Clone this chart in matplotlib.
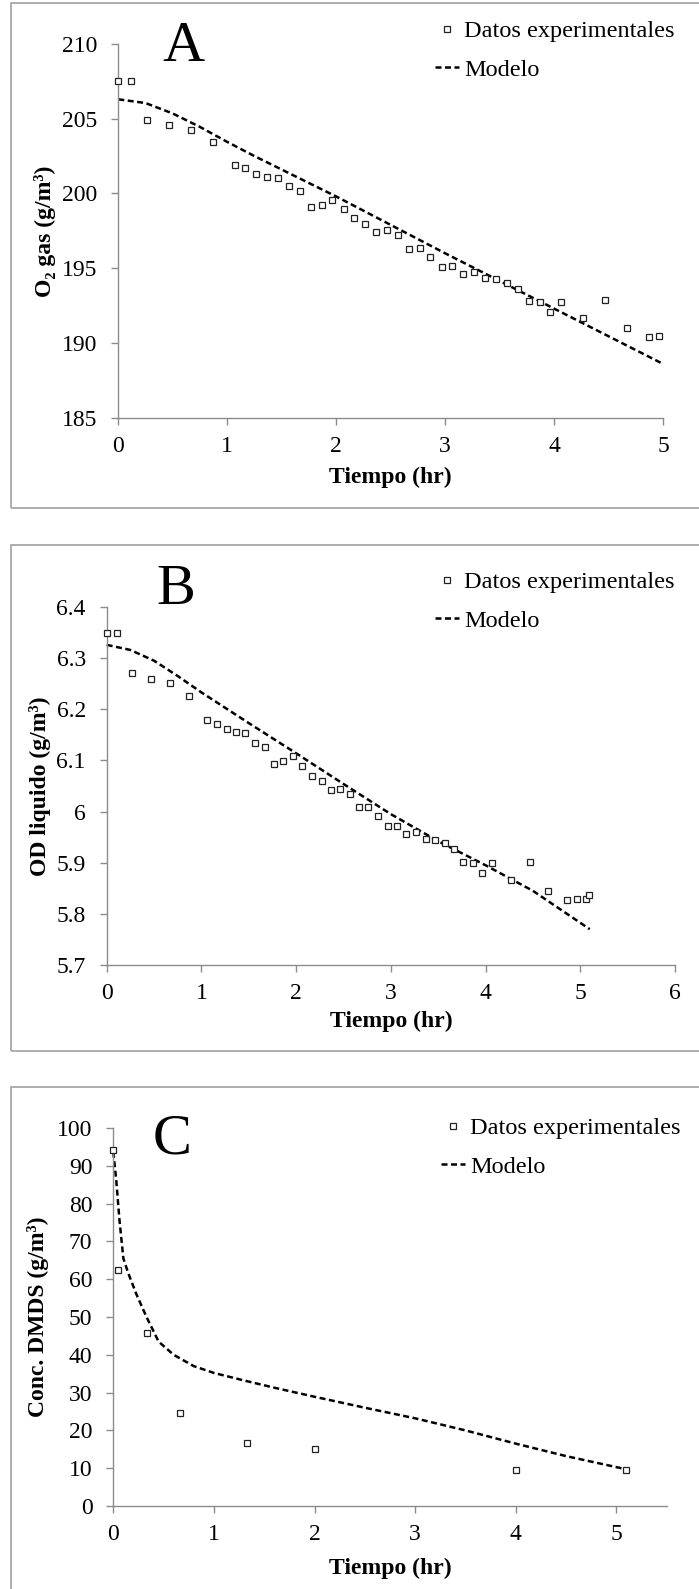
import matplotlib
matplotlib.use("Agg")
from matplotlib import pyplot as plt
from matplotlib.patches import Rectangle

plt.rcParams['font.family'] = ['Liberation Serif', 'DejaVu Serif']

# ---- panel A: O2 gas ----
a_t = [0, 0.115, 0.267, 0.464, 0.669, 0.87, 1.067, 1.166, 1.264, 1.367, 1.466, 1.568, 1.667,
       1.769, 1.868, 1.966, 2.069, 2.167, 2.266, 2.369, 2.467, 2.566, 2.668, 2.767, 2.865,
       2.968, 3.066, 3.165, 3.268, 3.366, 3.469, 3.567, 3.666, 3.768, 3.867, 3.965, 4.068,
       4.265, 4.47, 4.667, 4.869, 4.967]
a_o2 = [207.5, 207.5, 204.9, 204.55, 204.24, 203.45, 201.93, 201.69, 201.31, 201.13, 201.06,
        200.48, 200.17, 199.08, 199.25, 199.59, 198.99, 198.34, 197.98, 197.44, 197.53, 197.2,
        196.3, 196.33, 195.75, 195.1, 195.14, 194.58, 194.76, 194.32, 194.25, 193.98, 193.62,
        192.82, 192.77, 192.1, 192.75, 191.66, 192.86, 190.97, 190.41, 190.45]
a_mod_t = [0, 0.25, 0.5, 0.75, 1, 1.25, 1.5, 2, 2.5, 3, 3.5, 4, 4.5, 5]
a_mod = [206.3, 206.05, 205.35, 204.45, 203.45, 202.5, 201.6, 199.8, 197.9, 196.0, 194.15,
         192.3, 190.45, 188.6]

# ---- panel B: OD liquido ----
b_t = [0, 0.113, 0.265, 0.463, 0.666, 0.865, 1.063, 1.167, 1.266, 1.365, 1.465, 1.568, 1.668,
       1.767, 1.866, 1.965, 2.065, 2.164, 2.268, 2.367, 2.466, 2.565, 2.665, 2.764, 2.863,
       2.967, 3.066, 3.165, 3.265, 3.368, 3.468, 3.567, 3.666, 3.765, 3.865, 3.964, 4.063,
       4.266, 4.465, 4.663, 4.861, 4.961, 5.064, 5.093]
b_od = [6.35, 6.35, 6.271, 6.259, 6.251, 6.226, 6.18, 6.172, 6.161, 6.155, 6.153, 6.135, 6.126,
        6.093, 6.098, 6.108, 6.09, 6.07, 6.059, 6.042, 6.045, 6.035, 6.008, 6.008, 5.991,
        5.971, 5.972, 5.956, 5.961, 5.947, 5.945, 5.938, 5.926, 5.902, 5.9, 5.88, 5.899,
        5.866, 5.902, 5.845, 5.828, 5.829, 5.83, 5.837]
b_mod_t = [0, 0.25, 0.5, 0.75, 1, 1.5, 2, 2.5, 3, 3.5, 4, 4.5, 5.1]
b_mod = [6.326, 6.316, 6.295, 6.265, 6.233, 6.173, 6.114, 6.054, 5.995, 5.942, 5.895,
         5.845, 5.77]

# ---- panel C: DMDS ----
c_t = [0, 0.05, 0.333, 0.667, 1.333, 2, 4, 5.1]
c_dmds = [94.2, 62.4, 45.7, 24.7, 16.7, 15.1, 9.6, 9.6]
c_mod_t = [0, 0.03, 0.06, 0.1, 0.15, 0.23, 0.33, 0.45, 0.6, 0.8, 1.0, 1.3, 1.6, 2.0, 2.5,
           3.0, 3.5, 4.0, 4.5, 5.1]
c_mod = [93.7, 86, 76, 65.5, 61.5, 56, 50, 43.5, 40, 37, 35.2, 33.2, 31.3, 28.9, 26.0,
         23.2, 20.0, 16.5, 13.2, 9.7]

W, H = 699, 1589
fig = plt.figure(figsize=(W / 100, H / 100), dpi=100)


def box(l, r, t, b):
    return [l / W, 1 - b / H, (r - l) / W, (b - t) / H]


grey = '#8c8c8c'
panels = [
    dict(pos=box(118.3, 663, 44, 417.7), t=a_t, y=a_o2, mt=a_mod_t, my=a_mod,
         xlim=(0, 5), xt=range(0, 6), ylim=(185, 210), yt=[185, 190, 195, 200, 205, 210],
         yl='O₂ gas (g/m³)', ylx=44.6, letter='A', lpos=(183, 60.7),
         frame=(11.3, 3, 508), leg=(435, 20)),
    dict(pos=box(106.7, 675, 607, 965), t=b_t, y=b_od, mt=b_mod_t, my=b_mod,
         xlim=(0, 6), xt=range(0, 7), ylim=(5.7, 6.4),
         yt=[5.7, 5.8, 5.9, 6.0, 6.1, 6.2, 6.3, 6.4],
         yl='OD liquido (g/m³)', ylx=40, letter='B', lpos=(175.7, 604),
         frame=(11.3, 545, 1051), leg=(435, 571)),
    dict(pos=box(113.3, 666.7, 1128, 1506), t=c_t, y=c_dmds, mt=c_mod_t, my=c_mod,
         xlim=(0, 5.5), xt=range(0, 6), ylim=(0, 100), yt=range(0, 101, 10),
         yl='Conc. DMDS (g/m³)', ylx=38, letter='C', lpos=(172, 1153.3),
         frame=(11.3, 1087, 1650), leg=(441, 1117)),
]

for p in panels:
    ax = fig.add_axes(p['pos'])
    ax.plot(p['t'], p['y'], ls='none', marker='s', ms=4, mfc='white', mec='#222222',
            mew=0.9, label='Datos experimentales', clip_on=False, zorder=3)
    ax.plot(p['mt'], p['my'], color='black', lw=1.8, ls=(0, (2.4, 1.4)), label='Modelo',
            clip_on=False)
    ax.set_xlim(p['xlim'])
    ax.set_ylim(p['ylim'])
    ax.set_xticks(list(p['xt']))
    ax.set_yticks(list(p['yt']))
    ax.set_yticklabels([f'{v:g}' for v in p['yt']])
    for s in ['top', 'right']:
        ax.spines[s].set_visible(False)
    for s in ['left', 'bottom']:
        ax.spines[s].set_color(grey)
        ax.spines[s].set_linewidth(1)
    ax.tick_params(direction='out', length=5, width=1, color=grey, labelsize=17,
                   labelcolor='black')
    ax.tick_params(axis='y', pad=10)
    ax.tick_params(axis='x', pad=8)

    ax.set_xlabel('Tiempo (hr)', fontsize=17, fontweight='bold')
    ax.set_ylabel(p['yl'], fontsize=17, fontweight='bold')
    ax.xaxis.label.set_va('center')
    ax.yaxis.label.set_va('center')

    fig.text(p['lpos'][0] / W, 1 - p['lpos'][1] / H, p['letter'], fontsize=42,
             ha='center', va='baseline')

    fl, ft, fb = p['frame']
    fig.patches.append(Rectangle((fl / W, 1 - fb / H), (W + 20 - fl) / W, (fb - ft) / H,
                                 transform=fig.transFigure, fill=False, ec='#a0a0a0',
                                 lw=1.2))

    ax.legend(loc='upper left', bbox_to_anchor=(p['leg'][0] / W, 1 - p['leg'][1] / H),
              bbox_transform=fig.transFigure, frameon=False, fontsize=17.5,
              handlelength=1.0, handletextpad=0.2, labelspacing=0.68, borderpad=0,
              borderaxespad=0)
    p['ax'] = ax

# place axis labels in pixel positions
xl_y = [477, 1021.6, 1568.7]
for p, yy in zip(panels, xl_y):
    ax = p['ax']
    cx = p['pos'][0] + p['pos'][2] / 2
    ax.xaxis.set_label_coords(cx, 1 - yy / H, transform=fig.transFigure)
    cy = p['pos'][1] + p['pos'][3] / 2
    ax.yaxis.set_label_coords(p['ylx'] / W, cy, transform=fig.transFigure)

fig.savefig('out.png', dpi=100)
